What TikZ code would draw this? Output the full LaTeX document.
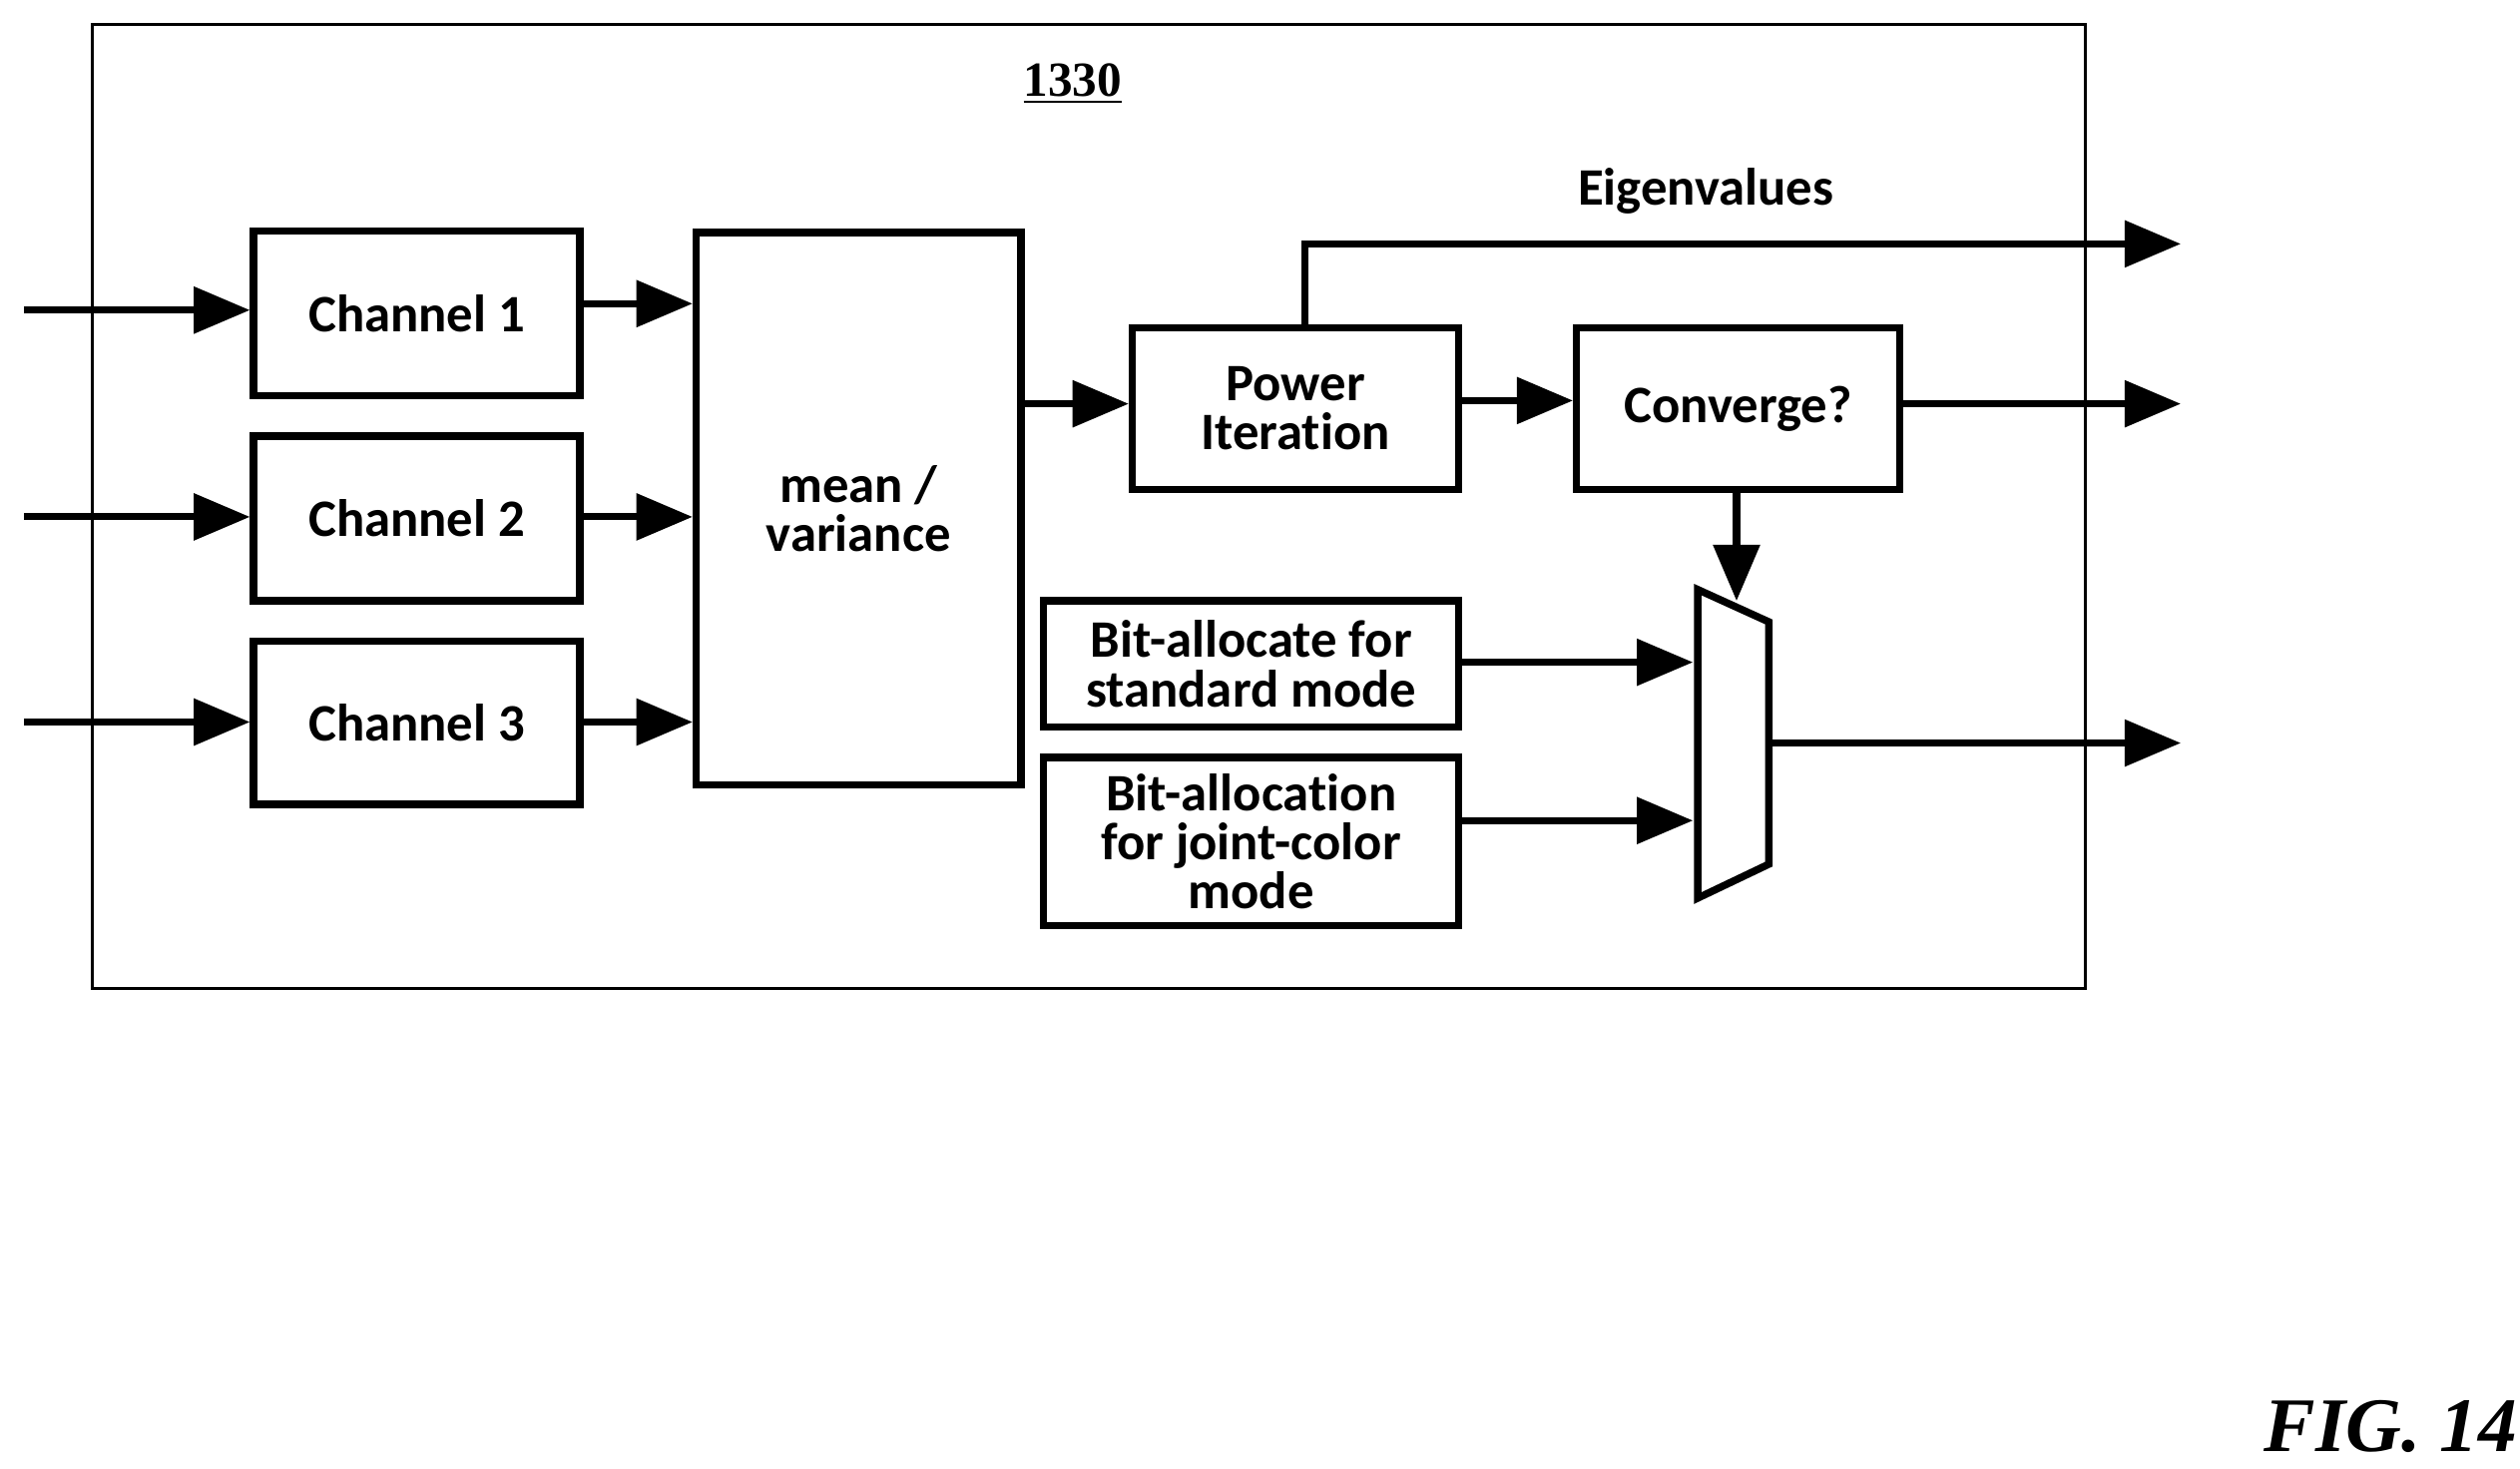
\documentclass[tikz,border=0pt]{standalone}
\usepackage{fontspec}
\setmainfont[Ligatures=NoCommon]{Carlito}
\newfontfamily\serfont{Liberation Serif}
\usetikzlibrary{arrows.meta}
\tikzset{
    blk/.style={draw, line width=2.1pt, inner sep=0pt, align=center, font=\bfseries\fontsize{15}{14}\selectfont},
    sig/.style={line width=2pt, -{Triangle[length=16pt, width=13pt]}}
}
\newcommand{\blk}[6]{
    \node[blk, minimum width={(#4-#2)*0.016186cm}, minimum height={(#5-#3)*0.016186cm}]
        (#1) at ({(#2+#4)/2},{(#3+#5)/2}) {#6};
}
\begin{document}
\begin{tikzpicture}[x=0.016186cm, y=-0.016186cm]
        \useasboundingbox (0,0) rectangle (1560,909.4);
        \draw[line width=1pt] (57,15) rectangle (1291,612);
        \node[font=\serfont\bfseries\fontsize{14}{14}\selectfont] (num) at (664,52) {\underline{1330}};
        % input channels
        \blk{ch1}{157}{143}{359}{245}{Channel 1}
        \blk{ch2}{157}{270}{359}{372}{Channel 2}
        \blk{ch3}{157}{397}{359}{498}{Channel 3}
        \blk{mv}{431}{144}{632}{486}{mean /\\variance}
        \blk{pi}{701}{203}{903}{303}{Power\\Iteration}
        \blk{cv}{976}{203}{1176}{303}{Converge?}
        \blk{bs}{646}{372}{903}{450}{Bit-allocate for\\standard mode}
        \blk{bj}{646}{469}{903}{573}{Bit-allocation\\for joint-color\\mode}
        \coordinate (in1) at (15,192);
        \coordinate (in2) at (15,320);
        \coordinate (in3) at (15,447);
        \draw[sig] (in1) -- (ch1.west |- in1);
        \draw[sig] (in2) -- (ch2.west |- in2);
        \draw[sig] (in3) -- (ch3.west |- in3);
        \foreach \c/\y in {ch1/188, ch2/320, ch3/447}
            \draw[sig] (\c.east |- 0,\y) -- (mv.west |- 0,\y);
        \draw[sig] (mv.east |- 0,250) -- (pi.west |- 0,250);
        \draw[sig] (pi.east |- 0,248) -- (cv.west |- 0,248);
        % multiplexer
        \draw[line width=2.1pt] (1051,365) -- (1095,385) -- (1095,535) -- (1051,556) -- cycle;
        \coordinate (mxt) at (1075,372);
        \coordinate (mxo) at (1095,460);
        \draw[sig] (cv.south -| mxt) -- (mxt);
        \draw[sig] (bs.east |- 0,410) -- (1048,410);
        \draw[sig] (bj.east |- 0,508) -- (1048,508);
        % outputs
        \coordinate (o1) at (1350,151);
        \coordinate (o2) at (1350,250);
        \coordinate (o3) at (1350,460);
        \draw[sig] (pi.north -| 808,0) |- (o1);
        \draw[sig] (cv.east |- o2) -- (o2);
        \draw[sig] (mxo) -- (o3);
        \node[font=\bfseries\fontsize{15}{15}\selectfont] (eig) at (1056,118) {Eigenvalues};
        \node[font=\serfont\bfseries\itshape\fontsize{22}{22}\selectfont] (fig) at (1480,883) {FIG. 14};
    \end{tikzpicture}
\end{document}
